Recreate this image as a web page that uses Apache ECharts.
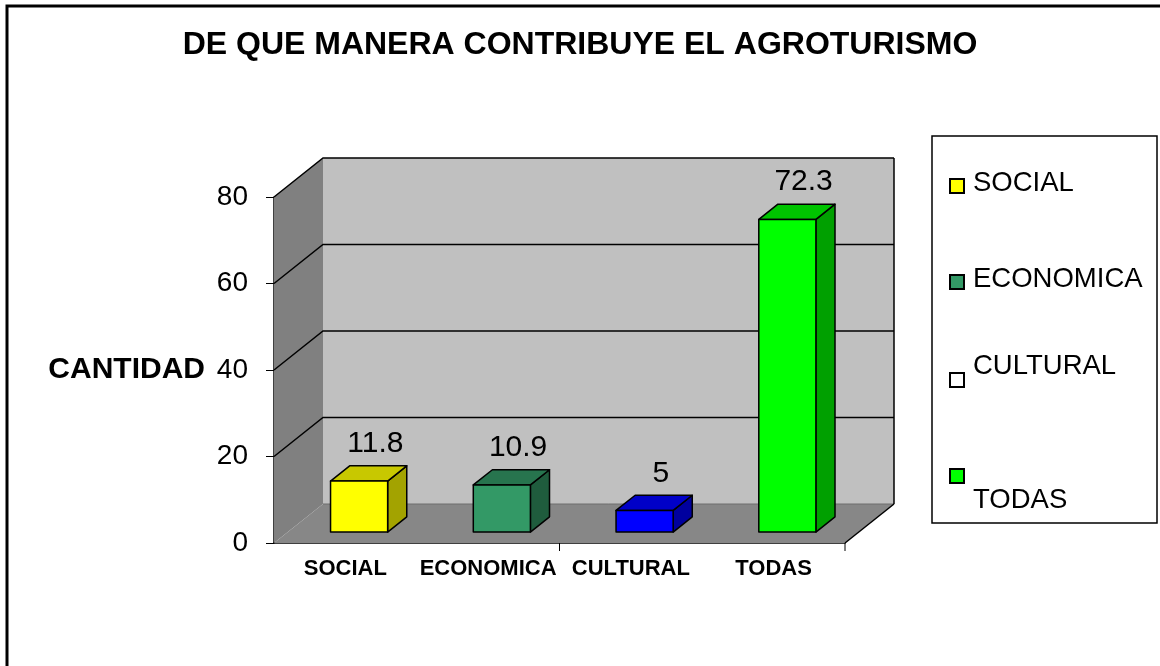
<!DOCTYPE html>
<html lang="es">
<head>
<meta charset="UTF-8">
<title>De que manera contribuye el agroturismo</title>
<script src="https://cdn.jsdelivr.net/npm/echarts@6/dist/echarts.min.js"></script>
<style>
  html, body { margin: 0; padding: 0; background: #fff; }
  #chart { width: 1160px; height: 666px; }
</style>
</head>
<body>
<div id="chart"></div>
<script>
  // datos del grafico
  const categories = ['SOCIAL', 'ECONOMICA', 'CULTURAL', 'TODAS'];
  const values = [11.8, 10.9, 5, 72.3];
  const yTicks = [0, 20, 40, 60, 80];

  // colores de cada barra (frente, tapa, lado) y de la leyenda
  const frontColors = ['#FFFF00', '#339966', '#0000FF', '#00FF00'];
  const topColors = ['#C8C800', '#27744E', '#0000C8', '#00C400'];
  const sideColors = ['#A3A300', '#1F5C3D', '#00009E', '#00A000'];
  const legendColors = ['#FFFF00', '#339966', '#FFFFFF', '#00FF00'];

  const FONT = "'Liberation Sans', Arial, sans-serif";
  // profundidad del efecto 3D (px)
  const DX = 49, DY = -39;
  const BAR_START = 0.28, BAR_DEPTH = 0.39, BAR_WIDTH = 0.4;

  // paredes y piso
  function renderWalls(params, api) {
    const bw = api.size([1, 0])[0];
    const c0 = api.coord([0, 0]);
    const xl = c0[0] - bw / 2;
    const xr = xl + categories.length * bw;
    const y0 = c0[1];
    const yMax = api.coord([0, yTicks[yTicks.length - 1]])[1];
    const children = [
      { type: 'polygon', shape: { points: [[xl, yMax], [xl + DX, yMax + DY], [xl + DX, y0 + DY], [xl, y0]] },
        style: { fill: '#808080' } },
      { type: 'rect', shape: { x: xl + DX, y: yMax + DY, width: xr - xl, height: y0 - yMax },
        style: { fill: '#C0C0C0' } },
      { type: 'polygon', shape: { points: [[xl, y0], [xr, y0], [xr + DX, y0 + DY], [xl + DX, y0 + DY]] },
        style: { fill: '#878787' } },
      { type: 'line', shape: { x1: xl + DX, y1: y0 + DY, x2: xr + DX, y2: y0 + DY },
        style: { stroke: '#6e6e6e', lineWidth: 1 } },
      { type: 'line', shape: { x1: xr + DX, y1: yMax + DY, x2: xr + DX, y2: y0 + DY },
        style: { stroke: '#000', lineWidth: 1.5 } },
      { type: 'line', shape: { x1: xr, y1: y0, x2: xr + DX, y2: y0 + DY },
        style: { stroke: '#000', lineWidth: 1.5 } }
    ];
    // marcas del eje x: una al medio y una al final
    [xl + 2 * bw, xr].forEach(function (x) {
      children.push({ type: 'line', shape: { x1: x, y1: y0, x2: x, y2: y0 + 8 },
        style: { stroke: '#000', lineWidth: 1 } });
    });
    yTicks.forEach(function (t) {
      if (t === 0) return;
      const y = api.coord([0, t])[1];
      children.push({ type: 'polyline',
        shape: { points: [[xl, y], [xl + DX, y + DY], [xr + DX, y + DY]] },
        style: { stroke: '#000', lineWidth: 1.5, fill: null } });
    });
    return { type: 'group', children: children };
  }

  // barras 3D
  function renderBar(params, api) {
    const i = api.value(0);
    const v = api.value(1);
    const bw = api.size([1, 0])[0];
    const c = api.coord([i, v]);
    const base = api.coord([i, 0]);
    const ox = DX * BAR_START, oy = DY * BAR_START;
    const ddx = DX * BAR_DEPTH, ddy = DY * BAR_DEPTH;
    const w = bw * BAR_WIDTH;
    const x0 = c[0] - w / 2 + ox, x1 = x0 + w;
    const yT = c[1] + oy, yB = base[1] + oy;
    const edge = { stroke: '#000', lineWidth: 1.5, lineJoin: 'round' };
    return {
      type: 'group',
      children: [
        { type: 'polygon', shape: { points: [[x1, yT], [x1 + ddx, yT + ddy], [x1 + ddx, yB + ddy], [x1, yB]] },
          style: Object.assign({ fill: sideColors[i] }, edge) },
        { type: 'polygon', shape: { points: [[x0, yT], [x1, yT], [x1 + ddx, yT + ddy], [x0 + ddx, yT + ddy]] },
          style: Object.assign({ fill: topColors[i] }, edge) },
        { type: 'rect', shape: { x: x0, y: yT, width: w, height: yB - yT },
          style: Object.assign({ fill: frontColors[i] }, edge) },
        { type: 'text', x: (x0 + x1) / 2 + ddx * 0.85, y: yT + ddy - 22,
          style: { text: String(values[i]), fill: '#000', font: '30px ' + FONT,
                   align: 'center', verticalAlign: 'middle' } }
      ]
    };
  }

  // leyenda
  const legendChildren = [
    { type: 'rect', shape: { x: 932, y: 136, width: 225, height: 387 },
      style: { fill: '#fff', stroke: '#000', lineWidth: 1.5 } }
  ];
  const legendMarkY = [186, 282, 380, 476];
  const legendTextY = [183, 279, 366, 500];
  categories.forEach(function (name, i) {
    legendChildren.push({ type: 'rect', shape: { x: 950, y: legendMarkY[i] - 7, width: 14, height: 14 },
      style: { fill: legendColors[i], stroke: '#000', lineWidth: 2 } });
    legendChildren.push({ type: 'text', x: 973, y: legendTextY[i],
      style: { text: name, fill: '#000', font: '27.5px ' + FONT, align: 'left', verticalAlign: 'middle' } });
  });

  const chart = echarts.init(document.getElementById('chart'));
  chart.setOption({
    backgroundColor: '#fff',
    animation: false,
    title: {
      text: 'DE QUE MANERA CONTRIBUYE EL AGROTURISMO',
      left: 'center', top: 24,
      textStyle: { fontFamily: FONT, fontSize: 32, fontWeight: 'bold', color: '#000' }
    },
    grid: { left: 274, top: 197, width: 571, height: 346 },
    xAxis: {
      type: 'category',
      data: categories,
      axisLine: { lineStyle: { color: '#000', width: 1.5 } },
      axisTick: { show: false },
      axisLabel: { interval: 0, margin: 15, color: '#000', fontFamily: FONT, fontSize: 22, fontWeight: 'bold' }
    },
    yAxis: {
      type: 'value',
      min: 0, max: 80, interval: 20,
      name: 'CANTIDAD',
      nameLocation: 'middle',
      nameRotate: 0,
      nameGap: 69,
      nameTextStyle: { color: '#000', fontFamily: FONT, fontSize: 30, fontWeight: 'bold' },
      axisLine: { show: true, lineStyle: { color: '#000', width: 1.5 } },
      axisTick: { show: true, length: 8, lineStyle: { color: '#000' } },
      axisLabel: { margin: 26, color: '#000', fontFamily: FONT, fontSize: 28 },
      splitLine: { show: false }
    },
    graphic: [
      { type: 'rect', shape: { x: 7, y: 6, width: 1200, height: 720 },
        style: { fill: null, stroke: '#000', lineWidth: 3 }, z: 100 },
      { type: 'group', children: legendChildren }
    ],
    series: [
      {
        type: 'custom', name: 'paredes', silent: true, z: 1,
        data: [[0, 0]],
        encode: { x: 0, y: 1 },
        renderItem: renderWalls
      },
      {
        type: 'custom', name: 'CANTIDAD', silent: true, z: 5,
        data: values.map(function (v, i) { return [i, v]; }),
        encode: { x: 0, y: 1 },
        renderItem: renderBar
      }
    ]
  });
</script>
</body>
</html>
